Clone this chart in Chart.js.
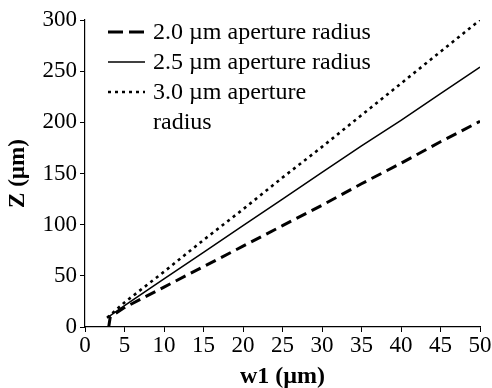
<!DOCTYPE html>
<html>
<head>
<meta charset="utf-8">
<script src="https://cdn.jsdelivr.net/npm/chart.js@4/dist/chart.umd.min.js"></script>
<style>
  html, body { margin: 0; padding: 0; background: #fff; }
  #wrap { width: 492px; height: 388px; }
</style>
</head>
<body>
<div id="wrap"><canvas id="chart"></canvas></div>
<script>
const seriesNames = [['2.0 µm aperture radius'], ['2.5 µm aperture radius'], ['3.0 µm aperture', 'radius']];
const xTicks = [0, 5, 10, 15, 20, 25, 30, 35, 40, 45, 50];
const yTicks = [0, 50, 100, 150, 200, 250, 300];

const w1Small = [3.0, 3.2, 5, 10, 15, 20, 25, 30, 35, 40, 45, 50];
const zSmall = [0, 10, 19, 39, 59, 79, 99, 119, 140, 160, 181, 201];

const w1Mid = [2.8, 5, 10, 15, 20, 25, 30, 35, 40, 45, 50];
const zMid = [9, 21, 47, 73, 99, 125, 151, 177, 202, 228, 254];

const w1Large = [2.8, 5, 10, 15, 20, 25, 30, 35, 40, 45, 50];
const zLarge = [9, 24, 54, 85, 115, 146, 176, 207, 238, 269, 300];

const serif = "'Liberation Serif', 'Times New Roman', serif";

function pts(xs, ys) {
  return xs.map((x, i) => ({ x: x, y: ys[i] }));
}

const styles = [
  { dash: [11, 6], width: 3 },
  { dash: [], width: 1.5 },
  { dash: [3, 4], width: 2.6 }
];

// legend drawn by hand so the third label can wrap
const legendPlugin = {
  id: 'handLegend',
  afterDraw(chart) {
    const ctx = chart.ctx;
    const left = chart.chartArea.left;
    const top = chart.chartArea.top;
    ctx.save();
    ctx.font = '24px ' + serif;
    ctx.fillStyle = '#000';
    ctx.textBaseline = 'middle';
    chart.data.datasets.forEach((ds, i) => {
      const y = top + 12 + i * 30;
      ctx.beginPath();
      ctx.setLineDash(i === 0 ? [15, 6] : ds.borderDash);
      ctx.lineWidth = ds.borderWidth;
      ctx.strokeStyle = '#000';
      ctx.moveTo(left + 23, y);
      ctx.lineTo(left + 60, y);
      ctx.stroke();
      ds.legendLines.forEach((t, j) => {
        ctx.fillText(t, left + 68, y + 1 + j * 30);
      });
    });
    ctx.restore();
  }
};

new Chart(document.getElementById('chart'), {
  type: 'line',
  data: {
    datasets: [
      { data: pts(w1Small, zSmall), borderDash: styles[0].dash, borderWidth: styles[0].width, legendLines: seriesNames[0] },
      { data: pts(w1Mid, zMid), borderDash: styles[1].dash, borderWidth: styles[1].width, legendLines: seriesNames[1] },
      { data: pts(w1Large, zLarge), borderDash: styles[2].dash, borderWidth: styles[2].width, legendLines: seriesNames[2] }
    ].map(d => Object.assign(d, { borderColor: '#000', pointRadius: 0, fill: false, tension: 0 }))
  },
  options: {
    responsive: true,
    maintainAspectRatio: false,
    animation: false,
    layout: { padding: { top: 20, right: 12, left: 0, bottom: 0 } },
    plugins: { legend: { display: false }, tooltip: { enabled: false } },
    scales: {
      x: {
        type: 'linear',
        min: 0,
        max: 50,
        afterBuildTicks: s => { s.ticks = xTicks.map(v => ({ value: v })); },
        afterFit: s => { s.height = 61; },
        grid: { drawOnChartArea: false, drawTicks: true, tickLength: 5, color: '#000' },
        border: { color: '#000', width: 1.2 },
        ticks: { color: '#000', font: { family: serif, size: 23 }, padding: 0, maxRotation: 0 },
        title: { display: true, text: 'w1 (µm)', color: '#000', font: { family: serif, size: 24, weight: 'bold' }, padding: { top: 0, bottom: -3 } }
      },
      y: {
        min: 0,
        max: 300,
        afterBuildTicks: s => { s.ticks = yTicks.map(v => ({ value: v })); },
        afterFit: s => { s.width = 85; },
        grid: { drawOnChartArea: false, drawTicks: true, tickLength: 5, color: '#000' },
        border: { color: '#000', width: 1.2 },
        ticks: { color: '#000', font: { family: serif, size: 23 }, padding: 3 },
        title: { display: true, text: 'Z (µm)', color: '#000', font: { family: serif, size: 23, weight: 'bold' }, padding: { bottom: 0 } }
      }
    }
  },
  plugins: [legendPlugin]
});
</script>
</body>
</html>
